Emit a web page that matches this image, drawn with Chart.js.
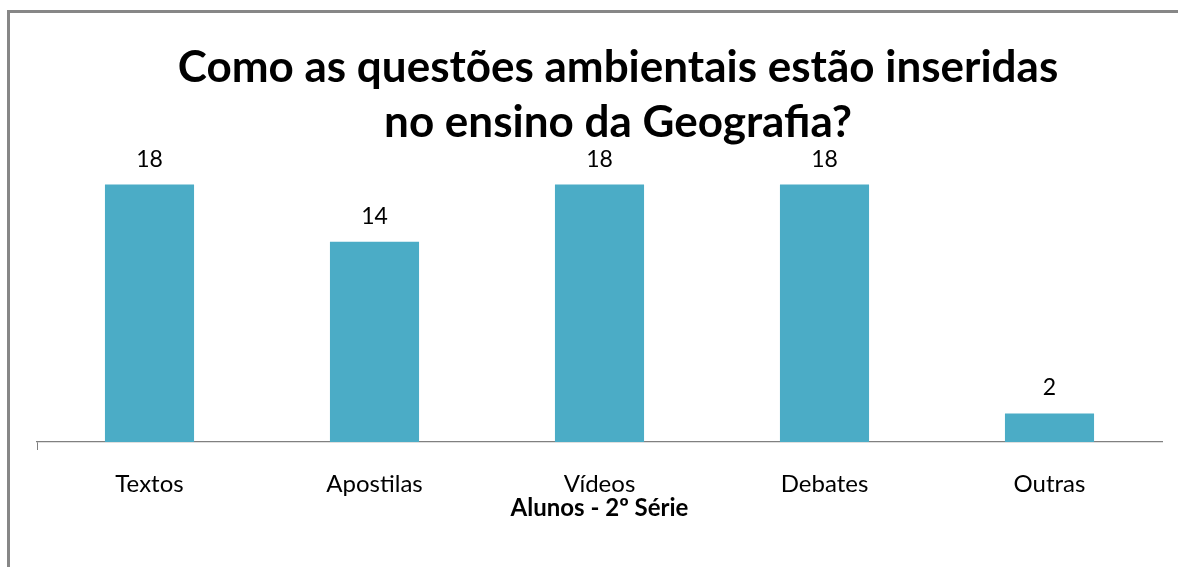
<!DOCTYPE html>
<html>
<head>
<meta charset="utf-8">
<script src="https://cdn.jsdelivr.net/npm/chart.js@4.4.1/dist/chart.umd.min.js"></script>
<style>
  html, body { margin: 0; padding: 0; background: #fff; overflow: hidden; }
  #wrap { position: absolute; left: 0; top: 0; width: 1200px; height: 567px; }
</style>
</head>
<body>
<div id="wrap"><canvas id="c" width="1200" height="567"></canvas></div>
<script>
const categories = ['Textos', 'Apostilas', 'Vídeos', 'Debates', 'Outras'];
const values = [18, 14, 18, 18, 2];
const chartTitle = ['Como as questões ambientais estão inseridas', 'no ensino da Geografia?'];
const axisTitle = 'Alunos - 2º Série';

const frame = {
  id: 'frame',
  beforeDraw(chart) {
    const ctx = chart.ctx;
    ctx.save();
    ctx.fillStyle = '#ffffff';
    ctx.fillRect(0, 0, chart.width, chart.height);
    ctx.strokeStyle = '#878787';
    ctx.lineWidth = 3;
    ctx.strokeRect(8.5, 11.5, 1400, 800);
    ctx.restore();
  }
};

const valueLabels = {
  id: 'valueLabels',
  afterDatasetsDraw(chart) {
    const ctx = chart.ctx;
    const meta = chart.getDatasetMeta(0);
    ctx.save();
    ctx.font = '23px Lato';
    ctx.fillStyle = '#000';
    ctx.textAlign = 'center';
    ctx.textBaseline = 'alphabetic';
    meta.data.forEach((bar, i) => {
      ctx.fillText(String(chart.data.datasets[0].data[i]), bar.x, bar.y - 18);
    });
    ctx.restore();
  }
};

new Chart(document.getElementById('c'), {
  type: 'bar',
  data: {
    labels: categories,
    datasets: [{
      data: values,
      backgroundColor: '#4BACC6',
      borderWidth: 0,
      categoryPercentage: 1,
      barPercentage: 0.396
    }]
  },
  options: {
    responsive: false,
    animation: false,
    layout: { padding: { left: 37, right: 1, top: 0, bottom: 0 } },
    plugins: {
      legend: { display: false },
      tooltip: { enabled: false },
      title: {
        display: true,
        text: chartTitle,
        color: '#000',
        font: { family: 'Lato', size: 44, weight: 'bold', lineHeight: 1.25 },
        padding: { top: 40, bottom: 6 }
      }
    },
    scales: {
      x: {
        afterFit(s) { s.height = 125; },
        grid: {
          display: true,
          offset: true,
          drawOnChartArea: false,
          tickLength: 8,
          color: (c) => (c.index === 0 || c.index === categories.length) ? '#808080' : 'rgba(0,0,0,0)'
        },
        border: { display: true, color: '#808080', width: 1.3 },
        ticks: { color: '#000', font: { family: 'Lato', size: 24 }, padding: 20, maxRotation: 0 },
        title: {
          display: true,
          text: axisTitle,
          color: '#000',
          font: { family: 'Lato', size: 24, weight: 'bold', lineHeight: 1.2 },
          padding: { top: 0, bottom: 44 }
        }
      },
      y: { display: false, min: 0, max: 20 },
      y2: {
        position: 'right',
        display: true,
        grid: { display: false },
        border: { display: false },
        ticks: { display: false },
        afterFit(s) { s.width = 37; }
      }
    }
  },
  plugins: [frame, valueLabels]
});
</script>
</body>
</html>
